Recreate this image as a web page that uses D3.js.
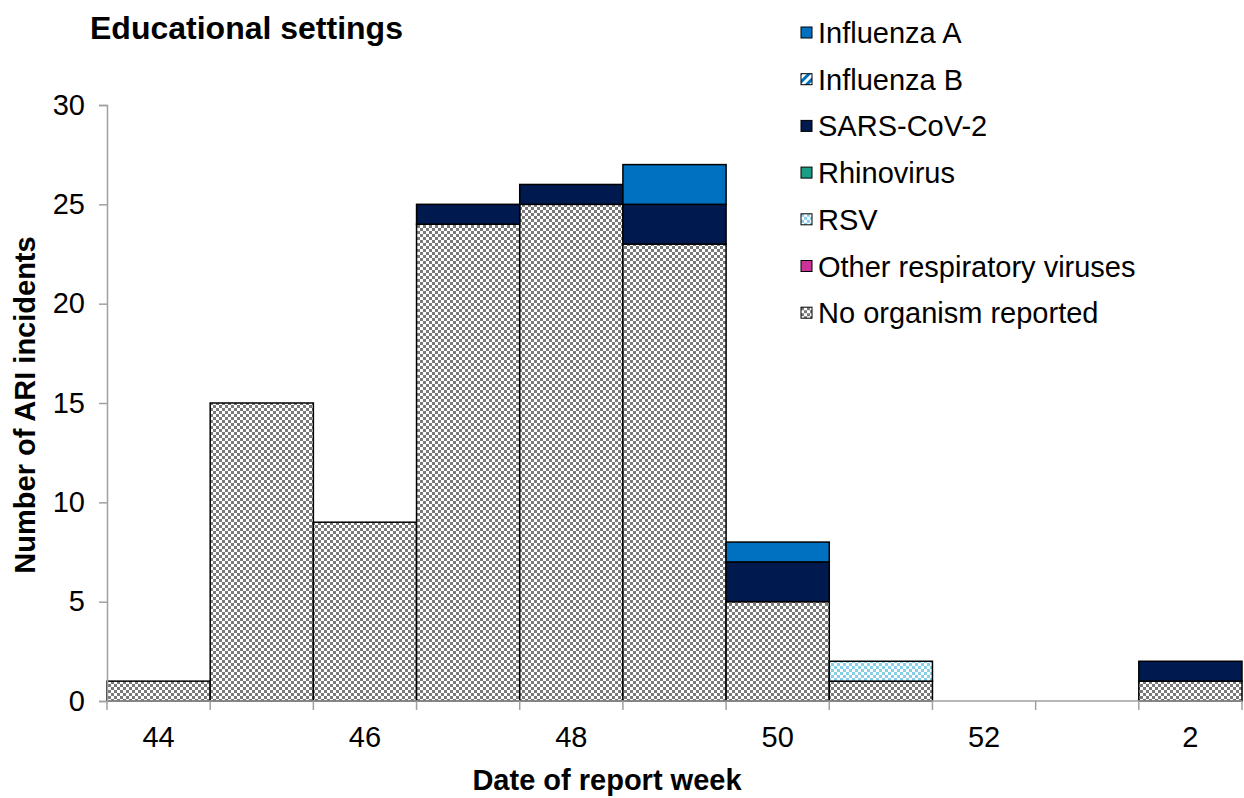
<!DOCTYPE html>
<html>
<head>
<meta charset="utf-8">
<style>
  body { margin: 0; background: #fff; }
  text { font-family: "Liberation Sans", Arial, sans-serif; fill: #000; }
</style>
</head>
<body>
<svg width="1244" height="798"></svg>
<script src="https://d3js.org/d3.v7.min.js"></script>
<script>
// weeks of report
var weeks = ["44", "45", "46", "47", "48", "49", "50", "51", "52", "1", "2"];
var tickWeeks = ["44", "46", "48", "50", "52", "2"];

// counts per series (stacked bottom to top)
var noOrganism = [1, 15, 9, 24, 25, 23, 5, 1, 0, 0, 1];
var otherResp  = [0, 0, 0, 0, 0, 0, 0, 0, 0, 0, 0];
var rsv        = [0, 0, 0, 0, 0, 0, 0, 1, 0, 0, 0];
var rhinovirus = [0, 0, 0, 0, 0, 0, 0, 0, 0, 0, 0];
var sarsCov2   = [0, 0, 0, 1, 1, 2, 2, 0, 0, 0, 1];
var influenzaB = [0, 0, 0, 0, 0, 0, 0, 0, 0, 0, 0];
var influenzaA = [0, 0, 0, 0, 0, 2, 1, 0, 0, 0, 0];

var series = [
  { key: "No organism reported", values: noOrganism, fill: "url(#pNoOrg)" },
  { key: "Other respiratory viruses", values: otherResp, fill: "#CC3399" },
  { key: "RSV", values: rsv, fill: "url(#pRsv)" },
  { key: "Rhinovirus", values: rhinovirus, fill: "#1A9E86" },
  { key: "SARS-CoV-2", values: sarsCov2, fill: "#00194F" },
  { key: "Influenza B", values: influenzaB, fill: "url(#pFluB)" },
  { key: "Influenza A", values: influenzaA, fill: "#0070C0" }
];

var svg = d3.select("svg");
var margin = { left: 107, right: 2, top: 105, bottom: 97 };
var width = 1244, height = 798;

// patterns
var defs = svg.append("defs");
var p1 = defs.append("pattern").attr("id", "pNoOrg").attr("patternUnits", "userSpaceOnUse")
    .attr("width", 6).attr("height", 6);
p1.append("rect").attr("width", 6).attr("height", 6).attr("fill", "#fff");
p1.append("rect").attr("width", 3).attr("height", 3).attr("fill", "#7a7a7a");
p1.append("rect").attr("x", 3).attr("y", 3).attr("width", 3).attr("height", 3).attr("fill", "#7a7a7a");

var p2 = defs.append("pattern").attr("id", "pRsv").attr("patternUnits", "userSpaceOnUse")
    .attr("width", 6).attr("height", 6);
p2.append("rect").attr("width", 6).attr("height", 6).attr("fill", "#fff");
p2.append("rect").attr("width", 3).attr("height", 3).attr("fill", "#87CEEB");
p2.append("rect").attr("x", 3).attr("y", 3).attr("width", 3).attr("height", 3).attr("fill", "#87CEEB");

var p3 = defs.append("pattern").attr("id", "pFluB").attr("patternUnits", "userSpaceOnUse")
    .attr("width", 6).attr("height", 6).attr("patternTransform", "rotate(-45)");
p3.append("rect").attr("width", 6).attr("height", 6).attr("fill", "#fff");
p3.append("rect").attr("width", 6).attr("height", 3).attr("fill", "#0070C0");

var x = d3.scaleBand().domain(weeks).range([margin.left, width - margin.right]).padding(0);
var y = d3.scaleLinear().domain([0, 30]).range([height - margin.bottom, margin.top]);

// stack
var table = weeks.map(function(w, i) {
  var row = { week: w };
  series.forEach(function(s) { row[s.key] = s.values[i]; });
  return row;
});
var stacked = d3.stack().keys(series.map(function(s) { return s.key; }))(table);

var layers = svg.append("g").selectAll("g")
  .data(stacked)
  .enter().append("g")
    .attr("fill", function(d, i) { return series[i].fill; });

layers.selectAll("rect")
  .data(function(d) { return d.filter(function(v) { return v[1] - v[0] > 0; }); })
  .enter().append("rect")
    .attr("x", function(d) { return x(d.data.week); })
    .attr("width", x.bandwidth())
    .attr("y", function(d) { return y(d[1]); })
    .attr("height", function(d) { return y(d[0]) - y(d[1]); })
    .attr("stroke", "#000")
    .attr("stroke-width", 1.5);

// y axis
var yAxis = svg.append("g")
    .attr("transform", "translate(" + margin.left + ",0)")
    .call(d3.axisLeft(y).tickValues([0, 5, 10, 15, 20, 25, 30]).tickSize(8).tickPadding(14));
yAxis.select(".domain").attr("stroke", "#a0a0a0").attr("stroke-width", 1.5);
yAxis.selectAll(".tick line").attr("stroke", "#a0a0a0").attr("stroke-width", 1.5);
yAxis.selectAll("text").style("font-size", "29px").attr("font-family", null).attr("fill", "#000");

// x axis: line + ticks at category boundaries
var xg = svg.append("g").attr("transform", "translate(0," + y(0) + ")");
xg.append("line").attr("x1", margin.left).attr("x2", width - margin.right)
  .attr("stroke", "#a0a0a0").attr("stroke-width", 1.5);
xg.selectAll(".bt").data(weeks.concat(["end"])).enter().append("line")
  .attr("x1", function(d, i) { return margin.left + i * x.step(); })
  .attr("x2", function(d, i) { return margin.left + i * x.step(); })
  .attr("y1", 0).attr("y2", 9)
  .attr("stroke", "#a0a0a0").attr("stroke-width", 1.5);
xg.selectAll(".lbl").data(tickWeeks).enter().append("text")
  .attr("x", function(d) { return x(d) + x.bandwidth() / 2; })
  .attr("y", 46)
  .attr("text-anchor", "middle")
  .style("font-size", "29px")
  .text(function(d) { return d; });

// titles
svg.append("text").attr("x", 90).attr("y", 39)
  .style("font-size", "32px").style("font-weight", "bold").text("Educational settings");
svg.append("text").attr("x", 607).attr("y", 790).attr("text-anchor", "middle")
  .style("font-size", "29px").style("font-weight", "bold").text("Date of report week");
svg.append("text").attr("transform", "translate(35,405) rotate(-90)").attr("text-anchor", "middle")
  .style("font-size", "29px").style("font-weight", "bold").text("Number of ARI incidents");

// legend
var legendRows = series.slice().reverse();
var legend = svg.append("g").selectAll("g")
  .data(legendRows)
  .enter().append("g")
    .attr("transform", function(d, i) { return "translate(801," + (33 + i * 46.7) + ")"; });
legend.append("rect").attr("x", 0).attr("y", -6).attr("width", 11).attr("height", 11)
  .attr("fill", function(d) { return d.fill; }).attr("stroke", "#000").attr("stroke-width", 1);
legend.append("text").attr("x", 17).attr("y", 10)
  .style("font-size", "29px").text(function(d) { return d.key; });
</script>
</body>
</html>
